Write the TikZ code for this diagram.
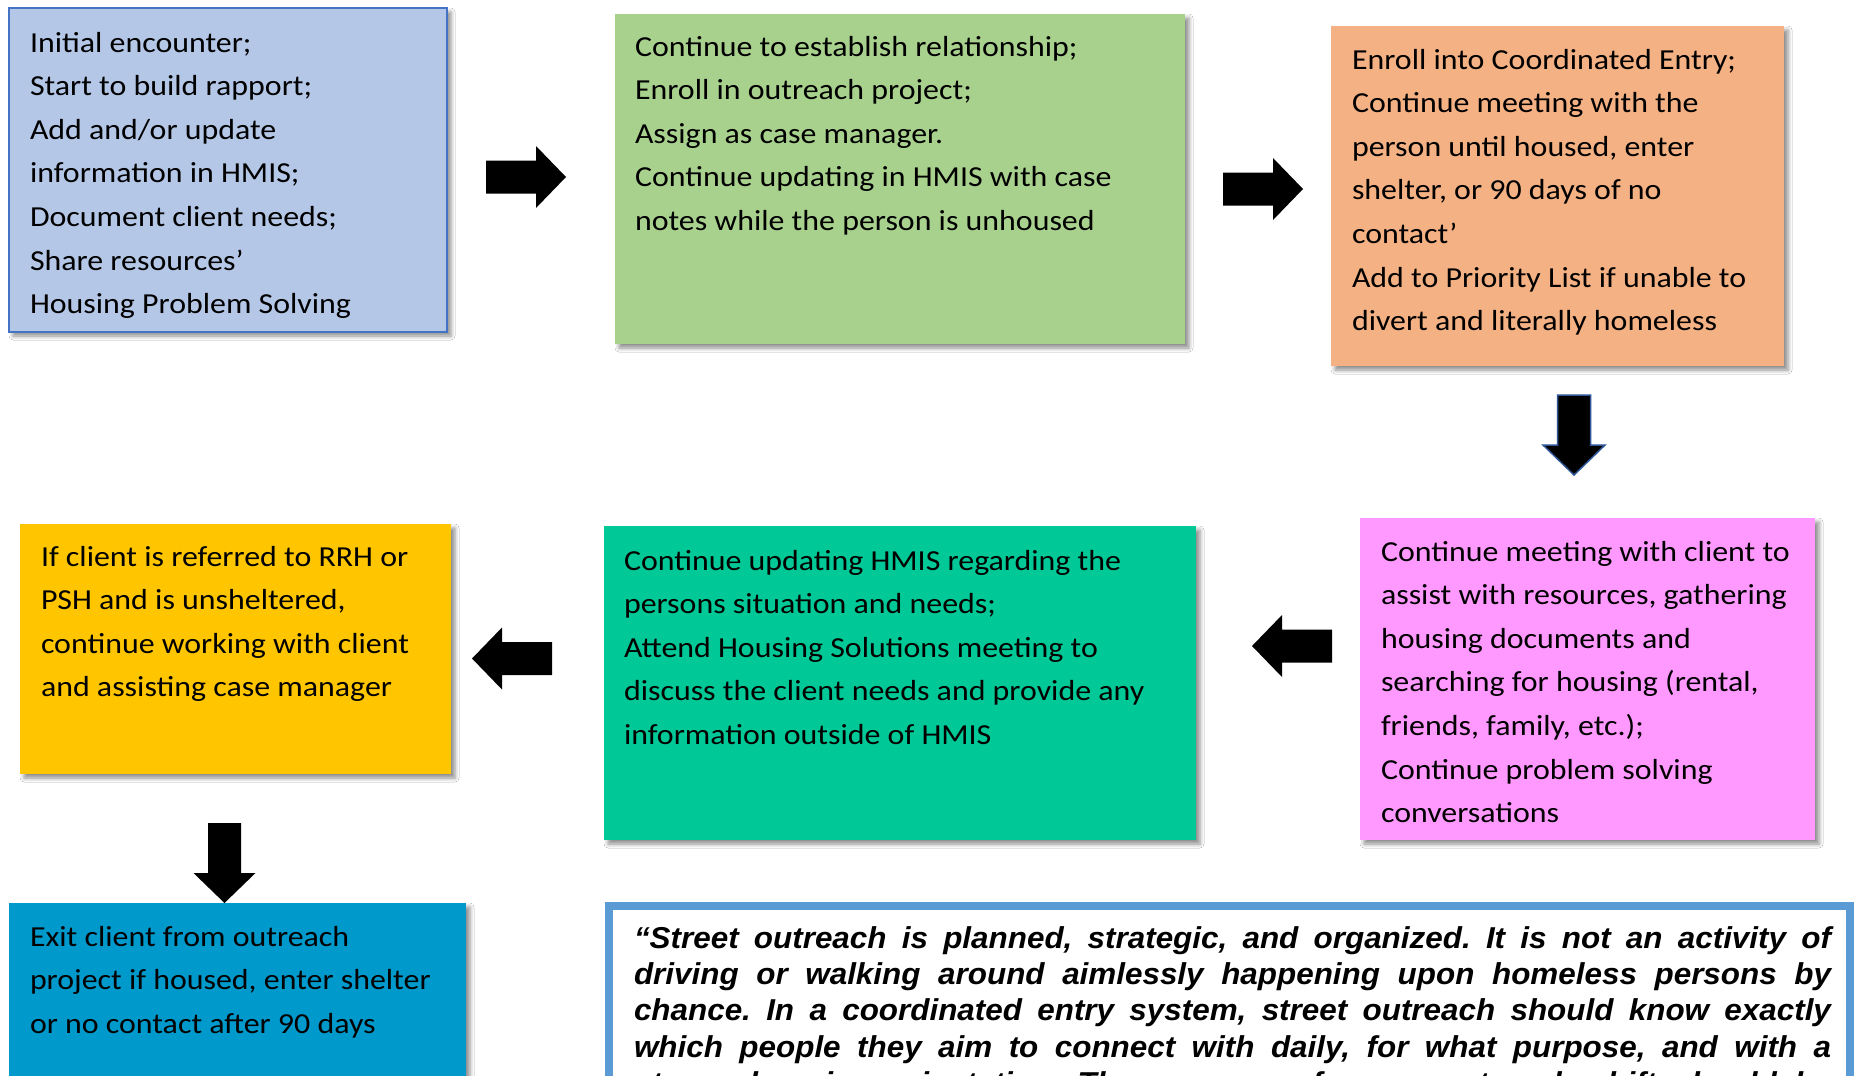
\documentclass[tikz,border=0pt]{standalone}
\usepackage{fontspec}
\setmainfont{Carlito}[FakeStretch=1.1]
\newfontfamily\quotefont{Liberation Sans}[FakeStretch=1.04]
\usetikzlibrary{shadows.blur,calc}
\definecolor{cblue}{HTML}{B4C7E7}
\definecolor{cblueline}{HTML}{4472C4}
\definecolor{cgreen}{HTML}{A9D18E}
\definecolor{corange}{HTML}{F4B183}
\definecolor{cpink}{HTML}{FF99FF}
\definecolor{cteal}{HTML}{00C896}
\definecolor{cyellow}{HTML}{FFC600}
\definecolor{cdeep}{HTML}{0099CC}
\definecolor{cquote}{HTML}{5B9BD5}
\definecolor{carrowline}{HTML}{2F5597}
\tikzset{
  box/.style={rectangle, inner sep=0pt, outer sep=0pt, anchor=north west,
    blur shadow={shadow xshift=4pt, shadow yshift=-4pt, shadow blur radius=4pt, shadow opacity=45}},
  txt/.style={anchor=north west, inner sep=0pt, outer sep=0pt, align=left,
    font=\fontsize{29}{43.6}\selectfont, text=black},
  quotetxt/.style={anchor=north west, inner sep=0pt, outer sep=0pt, align=left,
    font=\quotefont\bfseries\itshape\fontsize{30.2}{36.2}\selectfont\frenchspacing, text=black},
  blockarrow/.pic={\path[pic actions] (0,16.5)--(50,16.5)--(50,31)--(80,0)--(50,-31)--(50,-16.5)--(0,-16.5)--cycle;},
}
\begin{document}
\begin{tikzpicture}[x=1pt, y=-1pt]
\useasboundingbox (0,0) rectangle (1855,1076);
\clip (0,0) rectangle (1855,1076);
\fill[white] (0,0) rectangle (1855,1076);

% boxes
\node[box, fill=cblue, draw=cblueline, line width=2pt, minimum width=438pt, minimum height=324pt] (b1) at (9,8) {};
\node[box, fill=cgreen, minimum width=570pt, minimum height=330pt] (b2) at (615,14) {};
\node[box, fill=corange, minimum width=453pt, minimum height=340pt] (b3) at (1331,26) {};
\node[box, fill=cpink, minimum width=455pt, minimum height=322pt] (b4) at (1360,518) {};
\node[box, fill=cteal, minimum width=592pt, minimum height=314pt] (b5) at (604,526) {};
\node[box, fill=cyellow, minimum width=431pt, minimum height=250pt] (b6) at (20,524) {};
\node[box, fill=cdeep, minimum width=457pt, minimum height=190pt] (b7) at (9,903) {};
\node[rectangle, anchor=north west, inner sep=0pt, outer sep=0pt, draw=cquote, line width=8pt, minimum width=1241pt, minimum height=200pt] (q) at (609,906) {};

% texts
\node[txt] (t1) at ($(b1.north west)+(21,13.5)$) {\strut Initial encounter;\\Start to build rapport;\\Add and/or update\\information in HMIS;\\Document client needs;\\Share resources’\\Housing Problem Solving};
\node[txt] (t2) at ($(b2.north west)+(20,11.5)$) {\strut Continue to establish relationship;\\Enroll in outreach project;\\Assign as case manager.\\Continue updating in HMIS with case\\notes while the person is unhoused};
\node[txt] (t3) at ($(b3.north west)+(21,12.5)$) {\strut Enroll into Coordinated Entry;\\Continue meeting with the\\person until housed, enter\\shelter, or 90 days of no\\contact’\\Add to Priority List if unable to\\divert and literally homeless};
\node[txt] (t4) at ($(b4.north west)+(21,12.5)$) {\strut Continue meeting with client to\\assist with resources, gathering\\housing documents and\\searching for housing (rental,\\friends, family, etc.);\\Continue problem solving\\conversations};
\node[txt] (t5) at ($(b5.north west)+(20,13.5)$) {\strut Continue updating HMIS regarding the\\persons situation and needs;\\Attend Housing Solutions meeting to\\discuss the client needs and provide any\\information outside of HMIS};
\node[txt] (t6) at ($(b6.north west)+(21,11.5)$) {\strut If client is referred to RRH or\\PSH and is unsheltered,\\continue working with client\\and assisting case manager};
\node[txt] (t7) at ($(b7.north west)+(21,12.5)$) {\strut Exit client from outreach\\project if housed, enter shelter\\or no contact after 90 days};

\node[quotetxt] (qt) at (634,923.2) {\strut\makebox[1197pt][s]{“Street outreach is planned, strategic, and organized. It is not an activity of}\\
\makebox[1197pt][s]{driving or walking around aimlessly happening upon homeless persons by}\\
\makebox[1197pt][s]{chance. In a coordinated entry system, street outreach should know exactly}\\
\makebox[1197pt][s]{which people they aim to connect with daily, for what purpose, and with a}\\
\makebox[1197pt][s]{strong housing orientation. The purpose of every outreach shift should be}};

% block arrows
\coordinate (a1) at (486,177);
\coordinate (a2) at (1223,189);
\coordinate (a3) at (1574,395);
\coordinate (a4) at (1332,646);
\coordinate (a5) at (552,658.5);
\coordinate (a6) at (224.5,823);
\pic[fill=black] at (a1) {blockarrow};
\pic[fill=black] at (a2) {blockarrow};
\pic[fill=black, draw=carrowline, line width=1.5pt, rotate=-90] at (a3) {blockarrow};
\pic[fill=black, rotate=180] at (a4) {blockarrow};
\pic[fill=black, rotate=180] at (a5) {blockarrow};
\pic[fill=black, rotate=-90] at (a6) {blockarrow};
\end{tikzpicture}
\end{document}
